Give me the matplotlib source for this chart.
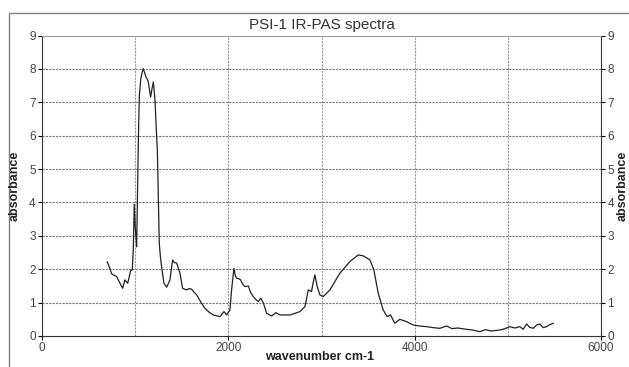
import matplotlib
matplotlib.use("Agg")
import matplotlib.pyplot as plt
from matplotlib.patches import Rectangle

plt.rcParams['font.family'] = ['Liberation Sans', 'DejaVu Sans']

wavenumber = [700, 725, 748, 775, 801, 830, 866, 890, 920, 952, 969, 980, 990, 1000, 1016,
              1025, 1035, 1045, 1060, 1075, 1087, 1100, 1116, 1130, 1141, 1155, 1166, 1180,
              1195, 1213, 1225, 1238, 1249, 1259, 1270, 1284, 1309, 1338, 1373, 1402, 1420,
              1445, 1481, 1509, 1552, 1580, 1606, 1630, 1660, 1713, 1740, 1767, 1800, 1839,
              1910, 1953, 1982, 2017, 2035, 2060, 2075, 2089, 2110, 2132, 2155, 2178, 2214,
              2240, 2268, 2300, 2322, 2347, 2375, 2411, 2465, 2511, 2554, 2661, 2768, 2822,
              2858, 2893, 2910, 2929, 2954, 2983, 3018, 3090, 3197, 3305, 3394, 3448, 3520,
              3562, 3609, 3662, 3705, 3741, 3788, 3841, 3913, 3985, 4050, 4128, 4200, 4271,
              4343, 4400, 4460, 4558, 4620, 4700, 4760, 4820, 4915, 4970, 5022, 5075, 5129,
              5165, 5201, 5235, 5272, 5310, 5343, 5380, 5415, 5450, 5487]
absorbance = [2.22, 2.05, 1.86, 1.82, 1.78, 1.62, 1.43, 1.68, 1.58, 1.96, 1.98, 2.6, 3.95, 3.3, 2.67,
              4.2, 6.0, 7.2, 7.7, 7.9, 8.01, 7.9, 7.76, 7.7, 7.61, 7.35, 7.16, 7.4,
              7.61, 7.07, 6.3, 5.57, 4.17, 2.77, 2.4, 2.07, 1.58, 1.46, 1.68, 2.28, 2.2,
              2.19, 1.88, 1.43, 1.38, 1.42, 1.40, 1.32, 1.23, 0.98, 0.86, 0.78, 0.70, 0.63,
              0.58, 0.73, 0.63, 0.78, 1.38, 2.03, 1.80, 1.73, 1.72, 1.68, 1.55, 1.48, 1.50,
              1.30, 1.18, 1.08, 1.03, 1.13, 1.00, 0.68, 0.60, 0.70, 0.63, 0.63, 0.73, 0.88,
              1.38, 1.33, 1.60, 1.83, 1.48, 1.23, 1.18, 1.38, 1.88, 2.23, 2.43, 2.40, 2.28,
              1.98, 1.28, 0.78, 0.58, 0.63, 0.38, 0.50, 0.43, 0.33, 0.30, 0.28, 0.25, 0.23,
              0.30, 0.22, 0.24, 0.20, 0.18, 0.13, 0.19, 0.15, 0.18, 0.22, 0.28, 0.24, 0.28,
              0.20, 0.36, 0.26, 0.23, 0.33, 0.36, 0.25, 0.28, 0.34, 0.38]

title = "PSI-1 IR-PAS spectra"
x_label = "wavenumber cm-1"
y_label = "absorbance"
x_ticks = [0, 2000, 4000, 6000]
x_grid = [1000, 2000, 3000, 4000, 5000]
y_ticks = list(range(0, 10))

W, H = 629, 367
fig = plt.figure(figsize=(W / 100, H / 100), dpi=100)
fig.patches.append(Rectangle((9 / W, -0.1), 1.2, 0.1 + (H - 13) / H, transform=fig.transFigure,
                             fill=False, edgecolor='#808080', linewidth=1.0))

ax = fig.add_axes([42 / W, (H - 336) / H, (601 - 42) / W, (336 - 35.6) / H])
ax.plot(wavenumber, absorbance, color='#222222', linewidth=0.9)
ax.set_xlim(0, 6000)
ax.set_ylim(0, 9)
ax.set_xticks(x_ticks)
ax.set_yticks(y_ticks)
for g in x_grid:
    ax.axvline(g, color='#999999', linestyle=(0, (2, 1)), linewidth=0.8, zorder=0)
for g in y_ticks[1:-1]:
    ax.axhline(g, color='#777777', linestyle=(0, (2, 1)), linewidth=0.8, zorder=0)

ax.spines['top'].set_color('#999999')
for s in ['left', 'bottom', 'right']:
    ax.spines[s].set_color('#333333')
ax.tick_params(axis='both', labelsize=8.5, labelcolor='#444444', length=3, width=0.8,
               direction='out', pad=1.5)
ax.tick_params(axis='y', right=True, labelright=True)

fig.text(322 / W, (H - 25) / H, title, ha='center', va='center', fontsize=11, color='#333333')
fig.text(320 / W, (H - 357) / H, x_label, ha='center', va='center', fontsize=9, fontweight='bold', color='#222222')
fig.text(15 / W, (H - 186) / H, y_label, ha='center', va='center', rotation=90, fontsize=9, fontweight='bold', color='#222222')
fig.text(623 / W, (H - 186) / H, y_label, ha='center', va='center', rotation=90, fontsize=9, fontweight='bold', color='#222222')

fig.savefig("out.png", dpi=100)
